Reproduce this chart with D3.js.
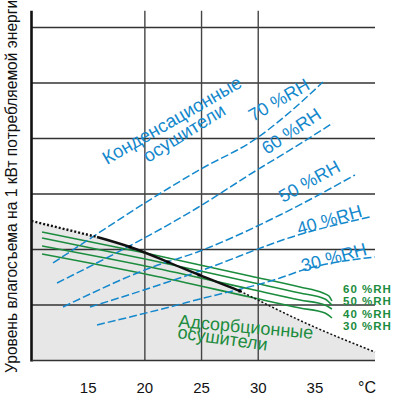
<!DOCTYPE html>
<html><head><meta charset="utf-8">
<script src="https://cdn.jsdelivr.net/npm/d3@7"></script>
<style>html,body{margin:0;padding:0;background:#fff;}svg{display:block;font-family:"Liberation Sans",Arial,sans-serif;}</style>
</head><body>
<svg id="c" width="398" height="400"></svg>
<script>
// ---- data ----
const xTicks = [15, 20, 25, 30, 35];
const xGrid = [20, 25, 30];
const yGrid = [1, 2, 3, 4, 5, 6];

// limit line between condensation and adsorption dryers
const limitLeft  = [[10, 2.514], [15.78, 2.225]];
const limitSolid = [[15.78, 2.225], [18.69, 2.045], [22.04, 1.775], [24.78, 1.541], [28.39, 1.252]];
const limitRight = [[28.39, 1.252], [34.56, 0.640], [40.3, 0.153]];

// condensation dryers (blue, dashed)
const blueNames = ["70 %RH", "60 %RH", "50 %RH", "40 %RH", "30 %RH"];
const blue70 = [[11.90,1.757],[15.78,2.279],[19.31,2.748],[24.78,3.432],[29.89,4.009],[32.80,4.477],[35.71,5.018]];
const blue60 = [[12.25,1.396],[24.60,2.748],[29.89,3.432],[33.24,3.847],[36.59,4.279]];
const blue50 = [[12.78,0.964],[20.45,1.667],[24.87,1.973],[31.92,2.622],[38.53,3.342]];
const blue40 = [[15.16,0.964],[20.45,1.306],[24.87,1.613],[33.51,2.261],[39.86,2.586]];
const blue30 = [[15.78,0.640],[20.45,0.874],[24.87,1.108],[31.92,1.486],[33.95,1.631],[40.30,1.865]];
// label anchor (data coords) and rotation
const blueLabelPos = [[29.54,4.297],[30.77,3.703],[32.18,2.838],[33.59,2.261],[33.95,1.595]];
const blueLabelRot = [-30, -34, -29, -16, -15];

// adsorption dryers (green)
const greenNames = ["60 %RH", "50 %RH", "40 %RH", "30 %RH"];
const green60 = [[10.93,2.315],[20.45,1.919],[29.27,1.523],[33.68,1.324],[35.71,1.216],[36.24,1.162],[36.5,1.072]];
const green50 = [[10.93,2.207],[20.45,1.811],[29.27,1.414],[33.68,1.216],[35.89,1.108],[36.5,1.0]];
const green40 = [[10.93,2.063],[20.45,1.685],[29.27,1.288],[33.68,1.090],[35.89,1.0],[36.5,0.928]];
const green30 = [[10.93,1.919],[20.45,1.541],[29.27,1.144],[33.68,0.946],[35.89,0.856],[36.5,0.766]];

// ---- drawing ----
const svg = d3.select("#c");
const x = d3.scaleLinear().domain([10, 40.3]).range([31.5, 375]);
const y = d3.scaleLinear().domain([0, 6]).range([360.5, 27.5]);
const yTop = 6.3;
const BLUE = "#1488cc", GREEN = "#1c8c3e";

const line = d3.line().x(d => x(d[0])).y(d => y(d[1])).curve(d3.curveMonotoneX);
const straight = d3.line().x(d => x(d[0])).y(d => y(d[1]));

// grey adsorption zone
const limitAll = limitLeft.concat(limitSolid.slice(1), limitRight.slice(1));
const area = d3.area().x(d => x(d[0])).y0(y(0)).y1(d => y(d[1])).curve(d3.curveMonotoneX);
svg.append("path").attr("d", area(limitAll)).attr("fill", "#e7e7e7");

// grid
svg.append("g").selectAll("line").data(yGrid).join("line")
  .attr("x1", x(10)).attr("x2", x(40.3)).attr("y1", d => y(d)).attr("y2", d => y(d))
  .attr("stroke", "#333").attr("stroke-width", 1.4);
svg.append("g").selectAll("line").data(xGrid).join("line")
  .attr("x1", d => x(d)).attr("x2", d => x(d)).attr("y1", y(yTop)).attr("y2", y(0))
  .attr("stroke", "#444").attr("stroke-width", 1.4);
// axes frame
svg.append("line").attr("x1", x(10)).attr("x2", x(10)).attr("y1", y(yTop)).attr("y2", y(0) + 1)
  .attr("stroke", "#111").attr("stroke-width", 2.6);
svg.append("line").attr("x1", x(10)).attr("x2", x(40.3)).attr("y1", y(0)).attr("y2", y(0))
  .attr("stroke", "#333").attr("stroke-width", 1.6);

// green lines
[green60, green50, green40, green30].forEach(g => {
  svg.append("path").attr("d", line(g)).attr("fill", "none")
    .attr("stroke", GREEN).attr("stroke-width", 1.6);
});

// blue dashed lines
[blue70, blue60, blue50, blue40, blue30].forEach(b => {
  svg.append("path").attr("d", line(b)).attr("fill", "none")
    .attr("stroke", BLUE).attr("stroke-width", 1.5).attr("stroke-dasharray", "8,3");
});

// limit line
svg.append("path").attr("d", straight(limitLeft)).attr("fill", "none")
  .attr("stroke", "#111").attr("stroke-width", 2.4).attr("stroke-dasharray", "2,2");
svg.append("path").attr("d", line(limitRight)).attr("fill", "none")
  .attr("stroke", "#111").attr("stroke-width", 1.5).attr("stroke-dasharray", "2,2");
svg.append("path").attr("d", line(limitSolid)).attr("fill", "none")
  .attr("stroke", "#111").attr("stroke-width", 2.4);
svg.append("g").selectAll("rect").data(limitSolid.slice(1)).join("rect")
  .attr("x", d => x(d[0]) - 1.5).attr("y", d => y(d[1]) - 1.5).attr("width", 3).attr("height", 3).attr("fill", "#000");

// blue labels
blueNames.forEach((n, i) => {
  const p = blueLabelPos[i];
  svg.append("text").attr("transform", `translate(${x(p[0])},${y(p[1])}) rotate(${blueLabelRot[i]})`)
    .attr("fill", BLUE).attr("font-size", 18).text(n);
});
svg.append("text").attr("transform", `translate(${x(16.66)},${y(3.523)}) rotate(-30)`)
  .attr("fill", BLUE).attr("font-size", 18.5).text("Конденсационные");
svg.append("text").attr("transform", `translate(${x(20.28)},${y(3.559)}) rotate(-32)`)
  .attr("fill", BLUE).attr("font-size", 18.5).text("осушители");

// green labels
svg.append("text").attr("transform", `translate(${x(22.92)},${y(0.604)}) rotate(5)`)
  .attr("fill", GREEN).attr("font-size", 18).text("Адсорбционные");
svg.append("text").attr("transform", `translate(${x(22.83)},${y(0.405)}) rotate(8)`)
  .attr("fill", GREEN).attr("font-size", 18).text("осушители");
greenNames.forEach((n, i) => {
  svg.append("text").attr("x", 343).attr("y", 293 + i * 12.3)
    .attr("fill", GREEN).attr("font-size", 11.5).attr("font-weight", "bold")
    .attr("letter-spacing", 1).text(n);
});

// x tick labels
svg.append("g").selectAll("text").data(xTicks).join("text")
  .attr("x", d => x(d)).attr("y", 393).attr("text-anchor", "middle")
  .attr("font-size", 15).attr("fill", "#111").text(d => d);
svg.append("text").attr("x", 367).attr("y", 393).attr("text-anchor", "middle")
  .attr("font-size", 16).attr("fill", "#111").text("°C");

// y axis label (cut off at the top edge, as in the reference)
svg.append("text").attr("transform", "translate(16.5,373) rotate(-90)")
  .attr("font-size", 15.6).attr("fill", "#111")
  .text("Уровень влагосъема на 1 кВт потребляемой энергии");
</script>
</body></html>
